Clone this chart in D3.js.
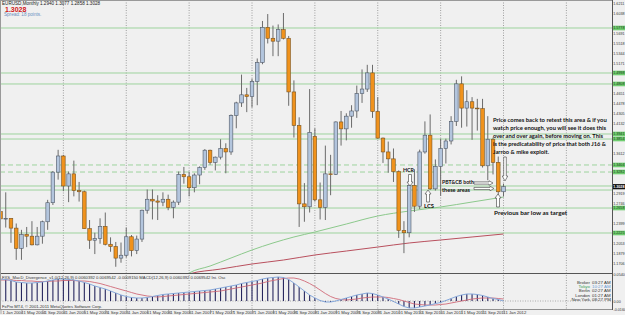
<!DOCTYPE html>
<html>
<head>
<meta charset="utf-8">
<script src="https://cdn.jsdelivr.net/npm/d3@7"></script>
<style>
  body { margin: 0; background: #f0f0f0; }
  svg { display: block; font-family: "Liberation Sans", Arial, sans-serif; }
</style>
</head>
<body>
<svg id="chart" width="625" height="315"></svg>
<script>
// EURUSD monthly, Jan 2004 .. Jan 2012
const open = [1.2595,1.2470,1.2480,1.2310,1.1960,1.2200,1.2170,1.2020,1.2170,1.2420,1.2750,1.3280,
  1.3560,1.3040,1.3250,1.2960,1.2940,1.2300,1.2100,1.2130,1.2340,1.2030,1.1990,1.1790,
  1.1840,1.2160,1.1920,1.2120,1.2620,1.2810,1.2780,1.2760,1.2810,1.2670,1.2760,1.3240,
  1.3200,1.3010,1.3230,1.3360,1.3660,1.3450,1.3540,1.3690,1.3630,1.4260,1.4480,1.4620,
  1.4590,1.4850,1.5180,1.5790,1.5600,1.5550,1.5750,1.5600,1.4670,1.4090,1.2730,1.2680,
  1.3900,1.2800,1.2670,1.3250,1.3240,1.4150,1.4030,1.4250,1.4340,1.4640,1.4720,1.5000,
  1.4330,1.3870,1.3630,1.3510,1.3290,1.2270,1.2230,1.3050,1.2690,1.3630,1.3920,1.2990,
  1.3380,1.3690,1.3820,1.4160,1.4810,1.4390,1.4500,1.4390,1.4380,1.3390,1.3850,1.3450,
  1.2940];
const high = [1.2900,1.2930,1.2480,1.2390,1.2280,1.2330,1.2430,1.2330,1.2440,1.2800,1.3300,1.3667,
  1.3580,1.3290,1.3480,1.3110,1.2960,1.2450,1.2230,1.2480,1.2580,1.2150,1.2070,1.2060,
  1.2320,1.2190,1.2180,1.2630,1.2980,1.2980,1.2880,1.2930,1.2890,1.2790,1.3290,1.3370,
  1.3290,1.3260,1.3380,1.3680,1.3670,1.3550,1.3850,1.3780,1.4280,1.4500,1.4970,1.4740,
  1.4900,1.5250,1.5900,1.6020,1.5820,1.5840,1.6038,1.5640,1.4870,1.4230,1.3090,1.4720,
  1.4040,1.3100,1.3740,1.3580,1.4160,1.4340,1.4300,1.4440,1.4780,1.5060,1.5140,1.5140,
  1.4580,1.3880,1.3810,1.3690,1.3310,1.2430,1.3110,1.3330,1.3670,1.4160,1.4280,1.3500,
  1.3860,1.3860,1.4250,1.4880,1.4940,1.4700,1.4580,1.4550,1.4550,1.4250,1.3880,1.3550,
  1.3077];
const low = [1.2385,1.2320,1.2055,1.1760,1.1760,1.1980,1.2010,1.2010,1.2040,1.2280,1.2710,1.3150,
  1.2950,1.2760,1.2860,1.2770,1.2300,1.1950,1.1860,1.2040,1.2010,1.1900,1.1640,1.1710,
  1.1800,1.1820,1.1860,1.2070,1.2560,1.2460,1.2450,1.2690,1.2620,1.2480,1.2710,1.3080,
  1.2860,1.2930,1.3070,1.3320,1.3410,1.3310,1.3500,1.3260,1.3580,1.4040,1.4410,1.4320,
  1.4400,1.4440,1.5150,1.5510,1.5290,1.5290,1.5580,1.4430,1.3880,1.2330,1.2420,1.2580,
  1.2770,1.2460,1.2450,1.2880,1.3230,1.3740,1.3830,1.4050,1.4220,1.4480,1.4670,1.4220,
  1.3860,1.3440,1.3270,1.3110,1.2140,1.1876,1.2150,1.2590,1.2640,1.3600,1.2970,1.2960,
  1.2870,1.3430,1.3760,1.4080,1.4050,1.4070,1.3840,1.4000,1.3360,1.3140,1.3240,1.2860,
  1.2858];
const close = [1.2470,1.2480,1.2310,1.1960,1.2200,1.2170,1.2020,1.2170,1.2420,1.2750,1.3280,1.3560,
  1.3040,1.3250,1.2960,1.2940,1.2300,1.2100,1.2130,1.2340,1.2030,1.1990,1.1790,1.1840,
  1.2160,1.1920,1.2120,1.2620,1.2810,1.2780,1.2760,1.2810,1.2670,1.2760,1.3240,1.3200,
  1.3010,1.3230,1.3360,1.3660,1.3450,1.3540,1.3690,1.3630,1.4260,1.4480,1.4620,1.4590,
  1.4850,1.5180,1.5790,1.5600,1.5550,1.5750,1.5600,1.4670,1.4090,1.2730,1.2680,1.3970,
  1.2800,1.2670,1.3250,1.3240,1.4150,1.4030,1.4250,1.4340,1.4640,1.4720,1.5000,1.4330,
  1.3870,1.3630,1.3510,1.3290,1.2270,1.2230,1.3050,1.2690,1.3630,1.3920,1.2990,1.3380,
  1.3690,1.3820,1.4160,1.4810,1.4390,1.4500,1.4390,1.4380,1.3390,1.3850,1.3450,1.2940,
  1.3028];

// moving averages (month index -> value)
const greenIdx = [34, 36, 40, 44, 48, 52, 56, 60, 66, 72, 78, 84, 90, 96];
const greenMA = [1.1400, 1.1532, 1.1653, 1.1792, 1.1931, 1.2052, 1.2156, 1.2242, 1.2381, 1.2520, 1.2606, 1.2676, 1.2762, 1.2849];
const redIdx = [34, 36, 42, 48, 54, 60, 66, 72, 78, 84, 90, 96];
const redMA = [1.1450, 1.1515, 1.1600, 1.1688, 1.1757, 1.1844, 1.1913, 1.1982, 1.2052, 1.2104, 1.2156, 1.2208];

// horizontal levels
const solidLevels = [1.5778, 1.4998, 1.4808, 1.3941, 1.3854, 1.3040, 1.2970, 1.2658, 1.2225];
const dashLevels = [1.3404, 1.3282];
const bidPrice = 1.3028;

// right axis
const priceTicks = [1.6211,1.6038,1.5864,1.5691,1.5518,1.5344,1.5171,1.4998,1.4825,1.4651,
  1.4478,1.4305,1.4132,1.3958,1.3785,1.3612,1.3439,1.3265,1.3092,1.2919,1.2746,1.2572,
  1.2399,1.2226,1.2053,1.1879,1.1706];

// MACD sub-window
const macd = [0.044,0.043,0.041,0.038,0.037,0.036,0.036,0.037,0.038,0.040,0.042,0.044,
  0.044,0.043,0.042,0.040,0.037,0.034,0.030,0.027,0.024,0.020,0.016,0.012,
  0.009,0.007,0.006,0.006,0.007,0.009,0.011,0.013,0.014,0.015,0.016,0.017,
  0.018,0.019,0.020,0.021,0.022,0.024,0.026,0.028,0.030,0.032,0.035,0.037,
  0.039,0.041,0.044,0.046,0.047,0.048,0.047,0.043,0.036,0.028,0.020,0.012,
  0.006,0.001,-0.002,-0.002,0.000,0.003,0.006,0.009,0.012,0.014,0.016,0.015,
  0.012,0.008,0.004,-0.001,-0.006,-0.011,-0.014,-0.014,-0.012,-0.010,-0.008,-0.005,
  -0.003,0.001,0.005,0.009,0.012,0.014,0.014,0.013,0.011,0.008,0.005,0.003,
  0.000];
const signal = [0.042,0.042,0.042,0.041,0.041,0.040,0.040,0.039,0.039,0.039,0.040,0.040,
  0.041,0.041,0.041,0.040,0.040,0.039,0.037,0.035,0.032,0.029,0.026,0.023,
  0.020,0.017,0.014,0.012,0.010,0.009,0.008,0.009,0.010,0.011,0.012,0.013,
  0.014,0.015,0.016,0.017,0.018,0.019,0.020,0.022,0.024,0.026,0.028,0.030,
  0.032,0.034,0.036,0.039,0.041,0.043,0.045,0.046,0.046,0.044,0.040,0.035,
  0.029,0.022,0.015,0.009,0.005,0.003,0.002,0.003,0.004,0.006,0.007,0.008,
  0.008,0.008,0.007,0.005,0.003,0.000,-0.003,-0.006,-0.007,-0.008,-0.008,-0.008,
  -0.007,-0.006,-0.004,-0.002,0.000,0.002,0.004,0.005,0.006,0.006,0.006,0.005,
  0.004];
const macdTicks = [0.054, 0, -0.016];
const macdTickLabels = ["0.0540", "0.00", "-0.0160"];

// time axis (every 4 months)
const dateIdx = d3.range(0, 97, 4);
const dateLabels = ["1 Jan 2004","1 May 2004","1 Sep 2004","1 Jan 2005","1 May 2005","1 Sep 2005",
  "1 Jan 2006","1 May 2006","1 Sep 2006","1 Jan 2007","1 May 2007","1 Sep 2007","1 Jan 2008",
  "1 May 2008","1 Sep 2008","1 Jan 2009","1 May 2009","1 Sep 2009","1 Jan 2010","1 May 2010",
  "1 Sep 2010","1 Jan 2011","1 May 2011","1 Sep 2011","1 Jan 2012"];
const yearIdx = [0, 12, 24, 36, 48, 60, 72, 84, 96, 108];

const clockNames = ["Broker", "Tokyo", "Berlin", "London", "New York"];
const clockTimes = ["03:27 AM", "10:27 AM", "02:27 AM", "01:27 AM", "08:27 PM"];

const noteLines = [
  "Price comes back to retest this area & if you",
  "watch price enough, you will see it does this",
  "over and over again, before moving on. This",
  "is the predicatability of price that both J16 &",
  "Jarroo & mike exploit."
];
const noteWidths = [114, 113, 110, 113, 56];

// ---------- layout ----------
const W = 625, H = 315;
const plotRight = 612, mainBottom = 273, subTop = 275, subBottom = 309;

const svg = d3.select("#chart");
const x = d3.scaleLinear().domain([0, 96]).range([0.5, 503.5]);
const y = d3.scaleLinear().domain([1.6038, 1.1532]).range([13, mainBottom]);
const ym = d3.scaleLinear().domain([-0.016, 0.054]).range([subBottom, subTop - 1]);

svg.append("rect").attr("width", W).attr("height", H).attr("fill", "#f0f0f0");

const defs = svg.append("defs");
defs.append("clipPath").attr("id", "clipMain")
  .append("rect").attr("x", 0).attr("y", 0).attr("width", plotRight).attr("height", mainBottom);
defs.append("clipPath").attr("id", "clipSub")
  .append("rect").attr("x", 0).attr("y", subTop).attr("width", plotRight).attr("height", subBottom - subTop);

// year grid
svg.append("g").selectAll("line")
  .data(yearIdx)
  .join("line")
  .attr("x1", d => x(d)).attr("x2", d => x(d))
  .attr("y1", 0).attr("y2", subBottom)
  .attr("stroke", "#8a8a8a")
  .attr("stroke-width", 0.8)
  .attr("stroke-dasharray", "1,1.5");

const main = svg.append("g").attr("clip-path", "url(#clipMain)");

// levels
main.selectAll("line.level")
  .data(solidLevels)
  .join("line")
  .attr("class", "level")
  .attr("x1", 0).attr("x2", plotRight)
  .attr("y1", d => y(d)).attr("y2", d => y(d))
  .attr("stroke", "#9dd39d")
  .attr("stroke-width", 1);

main.selectAll("line.dlevel")
  .data(dashLevels)
  .join("line")
  .attr("class", "dlevel")
  .attr("x1", 0).attr("x2", plotRight)
  .attr("y1", d => y(d)).attr("y2", d => y(d))
  .attr("stroke", "#9dd39d")
  .attr("stroke-width", 1)
  .attr("stroke-dasharray", "5,3");

// moving averages
const maLine = d3.line().x(d => x(d[0])).y(d => y(d[1])).curve(d3.curveMonotoneX);
main.append("path")
  .attr("d", maLine(greenIdx.map((d, i) => [d, greenMA[i]])))
  .attr("fill", "none").attr("stroke", "#8cc98c").attr("stroke-width", 1);
main.append("path")
  .attr("d", maLine(redIdx.map((d, i) => [d, redMA[i]])))
  .attr("fill", "none").attr("stroke", "#b9505e").attr("stroke-width", 1);

// candles
const bars = open.map((o, i) => ({ i, o, h: high[i], l: low[i], c: close[i] }));
main.selectAll("line.wick")
  .data(bars)
  .join("line")
  .attr("class", "wick")
  .attr("x1", d => x(d.i)).attr("x2", d => x(d.i))
  .attr("y1", d => y(d.h)).attr("y2", d => y(d.l))
  .attr("stroke", "#6b6b6b")
  .attr("stroke-width", 1);

main.selectAll("rect.body")
  .data(bars)
  .join("rect")
  .attr("class", "body")
  .attr("x", d => x(d.i) - 1.8)
  .attr("width", 3.6)
  .attr("y", d => y(Math.max(d.o, d.c)))
  .attr("height", d => Math.max(0.8, Math.abs(y(d.o) - y(d.c))))
  .attr("fill", d => d.c >= d.o ? "#b3c5dd" : "#f0921c")
  .attr("stroke", d => d.c >= d.o ? "#4f5866" : "#7a5420")
  .attr("stroke-width", 0.6);

// annotations
function blockArrow(x1, y1, x2, y2, w, hw, hl) {
  const dx = x2 - x1, dy = y2 - y1, len = Math.hypot(dx, dy);
  const ux = dx / len, uy = dy / len, px = -uy, py = ux;
  const bx = x2 - ux * hl, by = y2 - uy * hl;
  const pts = [
    [x1 + px * w / 2, y1 + py * w / 2],
    [bx + px * w / 2, by + py * w / 2],
    [bx + px * hw / 2, by + py * hw / 2],
    [x2, y2],
    [bx - px * hw / 2, by - py * hw / 2],
    [bx - px * w / 2, by - py * w / 2],
    [x1 - px * w / 2, y1 - py * w / 2]
  ];
  svg.append("polygon")
    .attr("points", pts.map(p => p.join(",")).join(" "))
    .attr("fill", "#ffffff")
    .attr("stroke", "#555")
    .attr("stroke-width", 0.7);
}

// squeeze a text horizontally so it spans `width` px from its x
function fitText(sel, x0, width) {
  sel.each(function () {
    const w = this.getComputedTextLength();
    if (w > width) {
      const k = width / w;
      d3.select(this).attr("transform", `translate(${x0 * (1 - k)},0) scale(${k},1)`);
    }
  });
}

const note = svg.append("g")
  .style("font-family", "Lato, 'Liberation Sans', sans-serif")
  .style("font-weight", "bold")
  .style("font-size", "6.4px")
  .attr("fill", "#111");

note.selectAll("text.note")
  .data(noteLines)
  .join("text")
  .attr("class", "note")
  .attr("x", 493)
  .attr("y", (d, i) => 122 + i * 8)
  .text(d => d)
  .each(function (d, i) { fitText(d3.select(this), 493, noteWidths[i]); });

const smallNotes = [
  { t: "HCR", x: 403, y: 172.5, w: 11 },
  { t: "LCS", x: 424, y: 208, w: 10 },
  { t: "PBT&CB both", x: 442, y: 184.5, w: 32 },
  { t: "these areas", x: 442, y: 192.5, w: 28 },
  { t: "Previous bar low as target", x: 494, y: 215, w: 80 }
];
note.selectAll("text.small")
  .data(smallNotes)
  .join("text")
  .attr("class", "small")
  .attr("x", d => d.x).attr("y", d => d.y)
  .text(d => d.t)
  .each(function (d) { fitText(d3.select(this), d.x, d.w); });

blockArrow(410, 174.5, 410, 186, 3, 6, 4);
blockArrow(428, 202, 428, 190, 3, 6, 4);
blockArrow(474, 183, 493, 183, 2.2, 4.5, 4);
blockArrow(474, 188.5, 494, 188.5, 2.2, 4.5, 4);
blockArrow(498, 207, 498, 194, 3, 6, 4);
blockArrow(505, 157, 505, 181, 2.6, 5.5, 5);

// top-left info
svg.append("text").attr("x", 2).attr("y", 5)
  .style("font-size", "4.6px").attr("fill", "#222")
  .text("EURUSD,Monthly  1.2940 1.3077 1.2858 1.3028");
svg.append("text").attr("x", 5).attr("y", 11.5)
  .style("font-size", "7px").style("font-weight", "bold").attr("fill", "#d01818")
  .text("1.3028");
svg.append("text").attr("x", 4).attr("y", 15.5)
  .style("font-size", "4.6px").attr("fill", "#6a8fc0")
  .text("Spread: 18 points.");

// right price axis
svg.append("rect").attr("x", plotRight).attr("y", 0).attr("width", W - plotRight).attr("height", H)
  .attr("fill", "#f0f0f0");
// a level tag right under the bid tag is hidden by it
const shownLevels = solidLevels.concat(dashLevels).filter(d => Math.abs(y(d) - y(bidPrice)) > 4.5);
const tagged = shownLevels.concat([bidPrice]);
const axisR = svg.append("g")
  .attr("transform", `translate(${plotRight},0)`)
  .call(d3.axisRight(y).tickValues(priceTicks).tickSize(1).tickPadding(0.3).tickFormat(d3.format(".4f")));
axisR.select(".domain").remove();
axisR.selectAll("line").attr("stroke", "#444");
axisR.selectAll("text")
  .style("font-size", "3.7px").style("font-family", "Liberation Sans").attr("fill", "#333");
// tags cover the ticks they sit on
axisR.selectAll(".tick")
  .filter(d => tagged.some(t => Math.abs(y(t) - y(d)) < 5))
  .select("text").remove();

const levelTags = svg.append("g");
levelTags.selectAll("rect")
  .data(shownLevels)
  .join("rect")
  .attr("x", plotRight + 0.5).attr("y", d => y(d) - 2.3)
  .attr("width", 12.5).attr("height", 4.6)
  .attr("fill", "#6fcd6f");
levelTags.selectAll("text")
  .data(shownLevels)
  .join("text")
  .attr("x", plotRight + 1.2).attr("y", d => y(d) + 1.4)
  .style("font-size", "3.7px").attr("fill", "#1c3b1c")
  .text(d => d.toFixed(4));

svg.append("rect").attr("x", plotRight + 0.5).attr("y", y(bidPrice) - 2.6)
  .attr("width", 12.5).attr("height", 5.2).attr("fill", "#111");
svg.append("text").attr("x", plotRight + 1.2).attr("y", y(bidPrice) + 1.4)
  .style("font-size", "3.7px").style("font-weight", "bold").attr("fill", "#fff")
  .text(bidPrice.toFixed(4));

// ---------- MACD sub-window ----------
const sub = svg.append("g").attr("clip-path", "url(#clipSub)");
sub.append("line")
  .attr("x1", 0).attr("x2", plotRight)
  .attr("y1", ym(0)).attr("y2", ym(0))
  .attr("stroke", "#999").attr("stroke-dasharray", "1,1.5").attr("stroke-width", 0.8);

sub.selectAll("line.hist")
  .data(macd)
  .join("line")
  .attr("class", "hist")
  .attr("x1", (d, i) => x(i)).attr("x2", (d, i) => x(i))
  .attr("y1", ym(0)).attr("y2", d => ym(d))
  .attr("stroke", "#26265e")
  .attr("stroke-width", 1.1);

const subLine = d3.line().x((d, i) => x(i)).y(d => ym(d));
sub.append("path").attr("d", subLine(signal))
  .attr("fill", "none").attr("stroke", "#d06a78").attr("stroke-width", 0.9);
sub.append("path").attr("d", subLine(macd))
  .attr("fill", "none").attr("stroke", "#86a9dc").attr("stroke-width", 1);

svg.append("text").attr("x", 2).attr("y", 279)
  .style("font-size", "4.2px").attr("fill", "#333")
  .text("FXS_MacD_Divergence_v1.0(12,26,9) 0.0060392 0.0069542 -0.0009150   MACD(12,26,9) 0.0060392 0.0069542  Ini. Osc");
svg.append("text").attr("x", 2).attr("y", 308)
  .style("font-size", "4.2px").attr("fill", "#333")
  .text("FxPro MT4, \u00a9 2001-2011 MetaQuotes Software Corp.");

// clocks
const clock = svg.append("g").style("font-size", "4.4px");
clock.selectAll("text.cn")
  .data(clockNames)
  .join("text")
  .attr("class", "cn")
  .attr("x", 590).attr("y", (d, i) => 284 + i * 4.2)
  .attr("text-anchor", "end")
  .attr("fill", (d, i) => i === 1 ? "#3aa05a" : "#333")
  .text(d => d);
clock.selectAll("text.ct")
  .data(clockTimes)
  .join("text")
  .attr("class", "ct")
  .attr("x", 592).attr("y", (d, i) => 284 + i * 4.2)
  .attr("fill", (d, i) => i === 1 ? "#6a9ad0" : "#333")
  .text(d => d);

const subAxis = svg.append("g");
subAxis.selectAll("text")
  .data(macdTicks)
  .join("text")
  .attr("x", plotRight + 1.5).attr("y", d => Math.min(ym(d) + 1.5, 313))
  .style("font-size", "3.7px").attr("fill", "#333")
  .text((d, i) => macdTickLabels[i]);

// frame lines
svg.append("line").attr("x1", 0).attr("x2", plotRight).attr("y1", mainBottom + 0.5).attr("y2", mainBottom + 0.5)
  .attr("stroke", "#555").attr("stroke-width", 1.2);
svg.append("line").attr("x1", 0).attr("x2", plotRight).attr("y1", subBottom + 0.5).attr("y2", subBottom + 0.5)
  .attr("stroke", "#777").attr("stroke-width", 0.8);
svg.append("line").attr("x1", plotRight + 0.5).attr("x2", plotRight + 0.5).attr("y1", 0).attr("y2", subBottom + 1)
  .attr("stroke", "#555").attr("stroke-width", 1);
svg.append("line").attr("x1", 0).attr("x2", plotRight).attr("y1", 0.5).attr("y2", 0.5)
  .attr("stroke", "#999").attr("stroke-width", 1);
svg.append("line").attr("x1", 0.5).attr("x2", 0.5).attr("y1", 0).attr("y2", subBottom)
  .attr("stroke", "#999").attr("stroke-width", 1);

// time axis
const timeAxis = svg.append("g").attr("transform", `translate(0,${subBottom + 1})`)
  .call(d3.axisBottom(x).tickValues(dateIdx).tickSize(4).tickPadding(0)
    .tickFormat((d, i) => dateLabels[i]));
timeAxis.select(".domain").remove();
timeAxis.selectAll("line").attr("stroke", "#777").attr("stroke-width", 0.6);
timeAxis.selectAll("text")
  .attr("y", 3.6).attr("dy", 0).attr("dx", 1.5)
  .attr("text-anchor", "start")
  .style("font-size", "4.2px").style("font-family", "Liberation Sans").attr("fill", "#333");
</script>
</body>
</html>
